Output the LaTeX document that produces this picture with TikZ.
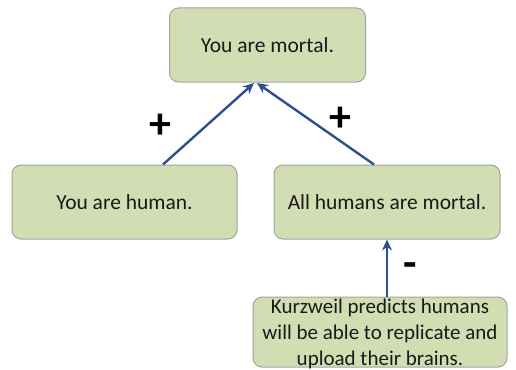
\documentclass[tikz,border=0pt]{standalone}
\usepackage{fontspec}
\setmainfont{Carlito}
\usetikzlibrary{arrows.meta}
\definecolor{boxfill}{HTML}{D3DDB3}
\definecolor{boxline}{HTML}{9FA6A0}
\definecolor{arrowblue}{HTML}{2F4F8C}
\begin{document}
\begin{tikzpicture}[x=1pt,y=-1pt,
  claim/.style={draw=boxline, line width=1pt, fill=boxfill, rounded corners=9pt, inner sep=0pt, align=center, font=\fontsize{21.5}{26}\selectfont, text=black!90},
  link/.style={draw=arrowblue, line width=2.4pt, -{Stealth[length=11pt,width=10pt]}},
  sign/.style={font=\fontsize{44}{44}\selectfont\bfseries, text=black}]
\useasboundingbox (0,0) rectangle (516,369);
\node[claim, minimum width=196pt, minimum height=74pt] (top) at (267.5,45) {You are mortal.};
\node[claim, minimum width=225pt, minimum height=74pt] (left) at (124.5,202) {You are human.};
\node[claim, minimum width=226pt, minimum height=74pt] (right) at (387,202) {All humans are mortal.};
\node[claim, minimum width=254pt, minimum height=70pt] (bottom) at (380,332) {\phantom{x}};
\node[align=center, font=\fontsize{21}{26}\selectfont, text=black!90, inner sep=0pt] (btext) at (380,333.5) {Kurzweil predicts humans\\will be able to replicate and\\upload their brains.};
\coordinate (tl) at (254,83);
\coordinate (tr) at (257,83);
\draw[link] (left.north -| 163,0) -- (tl);
\draw[link] (right.north -| 374,0) -- (tr);
\draw[link] (bottom.north -| 387,0) -- (right.south -| 387,0);
\node[sign] (p1) at (160,126) {+};
\node[sign] (p2) at (340,119) {+};
\node[sign] (m1) at (410,270) {-};
\end{tikzpicture}
\end{document}
